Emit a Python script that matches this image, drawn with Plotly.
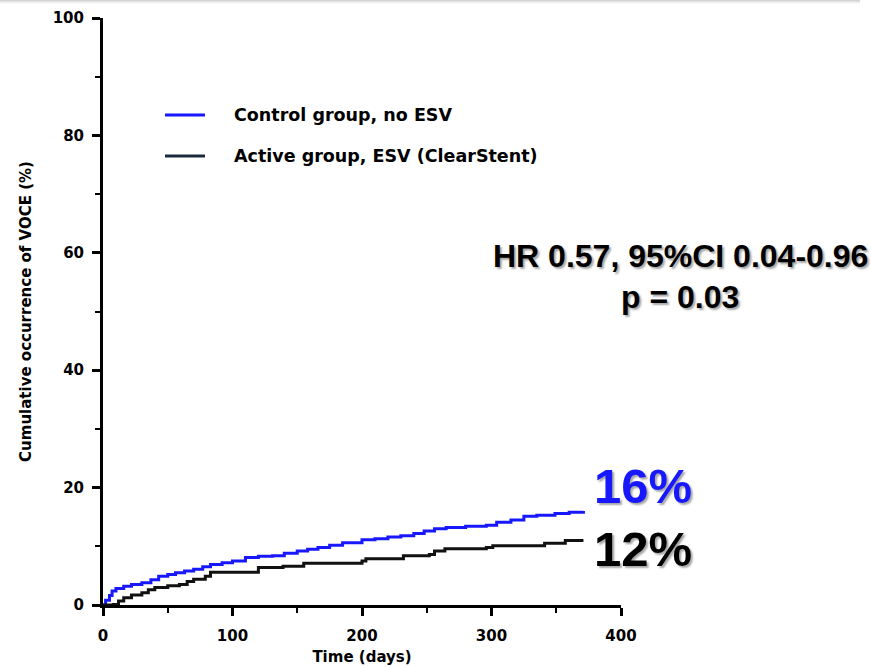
import plotly.graph_objects as go

# Control group, no ESV (blue)
control_days = [0, 2, 5, 7, 10, 16, 22, 30, 37, 43, 50, 56, 63, 70, 77, 83, 92, 100, 110, 120, 131, 140, 150, 158, 166, 175, 185, 200, 210, 220, 230, 240, 248, 256, 265, 280, 296, 304, 315, 325, 335, 349, 360, 371]
control_pct = [0.0, 0.8, 1.6, 2.4, 2.8, 3.2, 3.5, 3.8, 4.3, 4.9, 5.2, 5.5, 5.8, 6.1, 6.5, 6.9, 7.2, 7.5, 8.1, 8.3, 8.4, 8.8, 9.2, 9.5, 9.8, 10.2, 10.6, 11.1, 11.3, 11.6, 11.8, 12.2, 12.6, 13.0, 13.2, 13.4, 13.6, 14.1, 14.5, 15.1, 15.3, 15.6, 15.8, 16.0]

# Active group, ESV (ClearStent) (black)
active_days = [0, 8, 12, 16, 22, 30, 35, 40, 50, 59, 65, 70, 79, 83, 115, 120, 139, 155, 200, 203, 232, 252, 256, 264, 296, 301, 341, 357, 371]
active_pct = [0.0, 0.1, 0.7, 1.25, 1.7, 2.1, 2.6, 3.0, 3.3, 3.5, 4.0, 4.4, 4.9, 5.6, 5.6, 6.4, 6.6, 7.1, 7.5, 7.9, 8.4, 8.6, 9.2, 9.6, 9.8, 10.1, 10.5, 11.0, 11.0]

legend_labels = ["Control group, no ESV", "Active group, ESV (ClearStent)"]
x_ticks = [0, 100, 200, 300, 400]
y_ticks = [0, 20, 40, 60, 80, 100]

BLUE = "#1818ff"
BLACK = "#111111"
FONT = "DejaVu Sans"

fig = go.Figure()
fig.add_trace(go.Scatter(x=control_days, y=control_pct, mode="lines",
                         line=dict(color=BLUE, width=3, shape="hv"), showlegend=False))
fig.add_trace(go.Scatter(x=active_days, y=active_pct, mode="lines",
                         line=dict(color=BLACK, width=3, shape="hv"), showlegend=False))

L, R, T, B = 103, 621, 18, 605
W, H = 871, 667
def px(x):
    return (x - L) / (R - L)
def py(y):
    return (B - y) / (B - T)

axis_common = dict(showgrid=False, zeroline=False, showline=True, linecolor="black",
                   linewidth=3, ticks="outside", ticklen=8, tickwidth=3, tickcolor="black",
                   automargin=False,
                   tickfont=dict(family=FONT, size=15, color="black", weight="bold"))
fig.update_xaxes(range=[0, 400], tickvals=x_ticks, **axis_common, ticklabelstandoff=7,
                 minor=dict(dtick=50, ticks="outside", ticklen=5, tickwidth=2, tickcolor="black"),
                 title=dict(text="Time (days)", font=dict(family=FONT, size=15, color="black", weight="bold"), standoff=8))
fig.update_yaxes(range=[0, 100], tickvals=y_ticks, **axis_common, ticklabelstandoff=5,
                 minor=dict(dtick=10, ticks="outside", ticklen=5, tickwidth=2, tickcolor="black"),
                 title=dict(text="Cumulative occurrence of VOCE (%)", font=dict(family=FONT, size=15, color="black", weight="bold"), standoff=18))

shapes = []
# manual legend samples
for yy, col in [(115, BLUE), (156, "#1a2a3c")]:
    shapes.append(dict(type="line", xref="paper", yref="paper", x0=px(165), x1=px(205),
                       y0=py(yy), y1=py(yy), line=dict(color=col, width=3)))
# slide top shadow
for i, op in enumerate([0.35, 0.22, 0.12, 0.05]):
    shapes.append(dict(type="rect", xref="paper", yref="paper", x0=px(0), x1=px(860),
                       y0=py(i + 1), y1=py(i), line=dict(width=0), fillcolor="gray", opacity=op))

annotations = []
for yy, txt in [(115, legend_labels[0]), (156, legend_labels[1])]:
    annotations.append(dict(xref="paper", yref="paper", x=px(232), y=py(yy), text=txt,
                            showarrow=False, xanchor="left", yanchor="middle",
                            font=dict(family=FONT, size=17.5, color="black", weight="bold")))
shadow = "2px 2px 2px rgba(0,0,0,0.35)"
annotations.append(dict(xref="paper", yref="paper", x=px(680), y=py(256), text="HR 0.57, 95%CI 0.04-0.96",
                        showarrow=False, xanchor="center", yanchor="middle",
                        font=dict(family="Liberation Sans", size=32, color="black", weight="bold", shadow=shadow)))
annotations.append(dict(xref="paper", yref="paper", x=px(680), y=py(297), text="p = 0.03",
                        showarrow=False, xanchor="center", yanchor="middle",
                        font=dict(family="Liberation Sans", size=32, color="black", weight="bold", shadow=shadow)))
annotations.append(dict(xref="paper", yref="paper", x=px(592), y=py(486), text="16%",
                        showarrow=False, xanchor="left", yanchor="middle",
                        font=dict(family="Liberation Sans", size=49, color=BLUE, weight="bold", shadow=shadow)))
annotations.append(dict(xref="paper", yref="paper", x=px(592), y=py(549), text="12%",
                        showarrow=False, xanchor="left", yanchor="middle",
                        font=dict(family="Liberation Sans", size=49, color="black", weight="bold", shadow=shadow)))

fig.update_layout(width=W, height=H, margin=dict(l=L, r=W - R, t=T, b=H - B),
                  plot_bgcolor="white", paper_bgcolor="white",
                  shapes=shapes, annotations=annotations, showlegend=False)

fig.write_html("out.html", config={"displayModeBar": False},
               post_script="document.body.style.margin='0';document.body.style.overflow='hidden';")
